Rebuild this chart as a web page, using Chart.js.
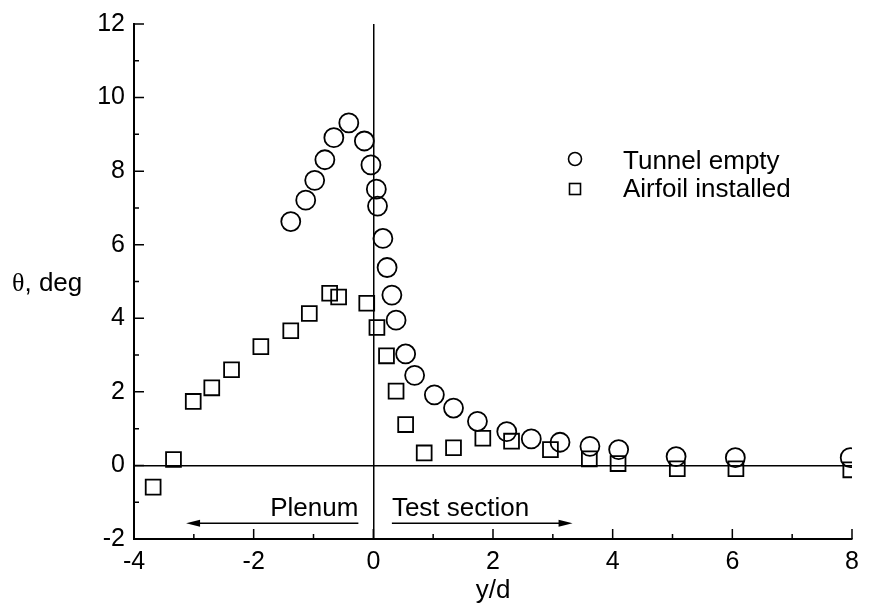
<!DOCTYPE html>
<html>
<head>
<meta charset="utf-8">
<script src="https://cdn.jsdelivr.net/npm/chart.js@4.4.1/dist/chart.umd.min.js"></script>
<style>
  body { margin: 0; background: #fff; }
  #wrap { width: 869px; height: 608px; }
</style>
</head>
<body>
<div id="wrap"><canvas id="myChart"></canvas></div>
<script>
// values
const tunnelX = [-1.38, -1.13, -0.98, -0.81, -0.66, -0.41, -0.15, -0.04, 0.05, 0.07, 0.16, 0.23, 0.31, 0.38, 0.54, 0.69, 1.02, 1.34, 1.74, 2.23, 2.64, 3.12, 3.62, 4.10, 5.06, 6.05, 7.97];
const tunnelY = [6.63, 7.21, 7.75, 8.31, 8.91, 9.31, 8.82, 8.17, 7.51, 7.05, 6.17, 5.38, 4.63, 3.95, 3.03, 2.45, 1.92, 1.56, 1.20, 0.92, 0.72, 0.63, 0.52, 0.43, 0.24, 0.21, 0.21];
const airfoilX = [-3.68, -3.34, -3.01, -2.70, -2.37, -1.88, -1.38, -1.07, -0.73, -0.58, -0.11, 0.06, 0.22, 0.38, 0.54, 0.85, 1.34, 1.83, 2.31, 2.96, 3.61, 4.09, 5.08, 6.06, 7.98];
const airfoilY = [-0.59, 0.16, 1.74, 2.11, 2.60, 3.23, 3.66, 4.13, 4.68, 4.58, 4.41, 3.75, 2.98, 2.02, 1.11, 0.34, 0.48, 0.74, 0.66, 0.43, 0.18, 0.05, -0.09, -0.09, -0.12];
const seriesNames = ["Tunnel empty", "Airfoil installed"];
const xRange = [-4, 8];
const yRange = [-2, 12];

const SANS = "'Liberation Sans', Arial, Helvetica, sans-serif";

function toPoints(xs, ys) {
  return xs.map((x, i) => ({ x: x, y: ys[i] }));
}

// inward ticks, legend, annotations and the y label
const extras = {
  id: "extras",
  afterDraw(chart) {
    const ctx = chart.ctx;
    const xs = chart.scales.x;
    const ys = chart.scales.y;
    const area = chart.chartArea;
    ctx.save();
    ctx.strokeStyle = "#000";
    ctx.fillStyle = "#000";
    ctx.lineWidth = 1.5;

    // minor + major ticks pointing inward
    ctx.beginPath();
    for (let v = yRange[0]; v <= yRange[1]; v++) {
      const py = ys.getPixelForValue(v);
      const len = v % 2 === 0 ? 10 : 5;
      ctx.moveTo(area.left, py);
      ctx.lineTo(area.left + len, py);
    }
    for (let v = xRange[0]; v <= xRange[1]; v++) {
      const px = xs.getPixelForValue(v);
      const len = v % 2 === 0 ? 10 : 5;
      ctx.moveTo(px, area.bottom);
      ctx.lineTo(px, area.bottom - len);
    }
    ctx.stroke();

    // y title, horizontal
    const ty = ys.getPixelForValue(5) + 9;
    ctx.textBaseline = "alphabetic";
    ctx.textAlign = "left";
    ctx.font = "26px 'Liberation Serif', serif";
    ctx.fillText("θ", 12, ty);
    const w = ctx.measureText("θ").width;
    ctx.font = "26px " + SANS;
    ctx.fillText(", deg", 12 + w, ty);

    // legend
    ctx.lineWidth = 1.6;
    ctx.beginPath();
    ctx.arc(575, 159, 6.5, 0, Math.PI * 2);
    ctx.stroke();
    ctx.strokeRect(569.5, 183.5, 11, 11);
    ctx.textBaseline = "middle";
    ctx.fillText(seriesNames[0], 623, 162);
    ctx.fillText(seriesNames[1], 623, 190);

    // Plenum / Test section
    const baseY = ys.getPixelForValue(-1.38);
    const arrY = ys.getPixelForValue(-1.57);
    ctx.textBaseline = "alphabetic";
    ctx.textAlign = "right";
    ctx.fillText("Plenum", xs.getPixelForValue(-0.25), baseY);
    ctx.textAlign = "left";
    ctx.fillText("Test section", xs.getPixelForValue(0.31), baseY);

    function arrow(x1, x2) {
      const a = xs.getPixelForValue(x1);
      const b = xs.getPixelForValue(x2);
      const dir = Math.sign(b - a);
      ctx.lineWidth = 1.5;
      ctx.beginPath();
      ctx.moveTo(a, arrY);
      ctx.lineTo(b - dir * 8, arrY);
      ctx.stroke();
      ctx.beginPath();
      ctx.moveTo(b, arrY);
      ctx.lineTo(b - dir * 14, arrY - 3.5);
      ctx.lineTo(b - dir * 14, arrY + 3.5);
      ctx.closePath();
      ctx.fill();
    }
    arrow(-0.25, -3.13);
    arrow(0.31, 3.33);

    ctx.restore();
  }
};

const zeroLine = (c) => (c.tick && c.tick.value === 0 ? "#000" : "rgba(0,0,0,0)");

new Chart(document.getElementById("myChart"), {
  type: "scatter",
  data: {
    datasets: [
      {
        label: seriesNames[0],
        data: toPoints(tunnelX, tunnelY),
        pointStyle: "circle",
        pointRadius: 9.5,
        borderWidth: 1.8,
        borderColor: "#000",
        backgroundColor: "rgba(0,0,0,0)",
        order: 2,
      },
      {
        label: seriesNames[1],
        data: toPoints(airfoilX, airfoilY),
        pointStyle: "rect",
        pointRadius: 10.5,
        borderWidth: 1.8,
        borderColor: "#000",
        backgroundColor: "rgba(0,0,0,0)",
        order: 1,
      },
    ],
  },
  options: {
    responsive: true,
    maintainAspectRatio: false,
    animation: false,
    layout: { padding: { top: 23, right: 17, left: 0, bottom: 0 } },
    plugins: {
      legend: { display: false },
      tooltip: { enabled: false },
    },
    scales: {
      x: {
        type: "linear",
        min: xRange[0],
        max: xRange[1],
        afterFit: (s) => { s.height = 69; },
        ticks: {
          stepSize: 2,
          padding: 8,
          color: "#000",
          font: { family: SANS, size: 25 },
        },
        grid: { color: zeroLine, lineWidth: 1.5, drawTicks: false },
        border: { display: true, color: "#000", width: 2 },
        title: {
          display: true,
          text: "y/d",
          color: "#000",
          font: { family: SANS, size: 26 },
          padding: { top: 0, bottom: 2 },
        },
      },
      y: {
        type: "linear",
        min: yRange[0],
        max: yRange[1],
        afterFit: (s) => { s.width = 134; },
        ticks: {
          stepSize: 2,
          padding: 9,
          color: "#000",
          font: { family: SANS, size: 25 },
        },
        grid: { color: zeroLine, lineWidth: 1.5, drawTicks: false },
        border: { display: true, color: "#000", width: 2 },
      },
    },
  },
  plugins: [extras],
});
</script>
</body>
</html>
